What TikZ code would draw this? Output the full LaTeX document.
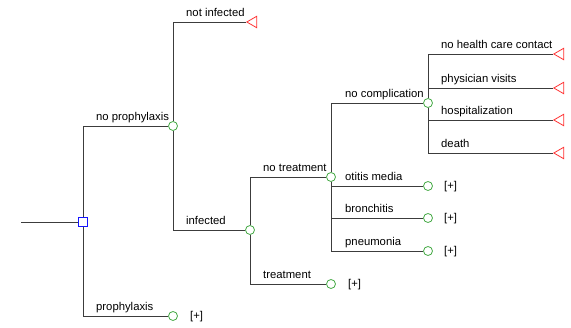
\documentclass[tikz,border=0pt]{standalone}
\usepackage{fontspec}
\setmainfont{Liberation Sans}
\usetikzlibrary{shapes.geometric}
\definecolor{linegray}{RGB}{60,60,60}
\definecolor{chancegreen}{RGB}{70,170,70}
\definecolor{decblue}{RGB}{20,20,255}
\definecolor{termred}{RGB}{255,50,50}
\tikzset{
	decision/.style={draw=decblue,fill=white,minimum size=9pt,inner sep=0pt,line width=0.8pt},
	chance/.style={circle,draw=chancegreen,fill=white,minimum size=9pt,inner sep=0pt,line width=0.8pt},
	terminal/.style={isosceles triangle,shape border rotate=180,isosceles triangle apex angle=60,draw=termred,fill=white,minimum size=10pt,inner sep=0pt,anchor=apex,line width=0.8pt},
	branch/.style={draw=linegray,line width=0.9pt},
	lbl/.style={anchor=base west,inner sep=0pt,font=\fontsize{11.3}{13}\selectfont},
	more/.style={anchor=west,inner sep=0pt,font=\fontsize{11.3}{13}\selectfont}
}
\begin{document}
\begin{tikzpicture}[x=1pt,y=-1pt]
		\useasboundingbox (0,0) rectangle (571,328);
		% nodes
		\coordinate (root) at (21,222);
		\node[decision] (dec) at (83,222) {};
		\node[chance] (noproph) at (173,126) {};
		\node[chance] (proph) at (173,316) {};
		\node[terminal] (notinf) at (246,22) {};
		\node[chance] (inf) at (250,230) {};
		\node[chance] (notreat) at (331,177) {};
		\node[chance] (treat) at (331,284) {};
		\node[chance] (nocompl) at (428,103) {};
		\node[chance] (otitis) at (428,186) {};
		\node[chance] (bronch) at (428,218) {};
		\node[chance] (pneum) at (428,251) {};
		\node[terminal] (nocontact) at (553,54) {};
		\node[terminal] (physician) at (553,88) {};
		\node[terminal] (hospital) at (553,120) {};
		\node[terminal] (death) at (553,153) {};
		% branches
		\draw[branch] (root) -- (dec);
		\draw[branch] (dec) |- (noproph);
		\draw[branch] (dec) |- (proph);
		\draw[branch] (noproph) |- (notinf);
		\draw[branch] (noproph) |- (inf);
		\draw[branch] (inf) |- (notreat);
		\draw[branch] (inf) |- (treat);
		\draw[branch] (notreat) |- (nocompl);
		\draw[branch] (notreat) |- (otitis);
		\draw[branch] (notreat) |- (bronch);
		\draw[branch] (notreat) |- (pneum);
		\draw[branch] (nocompl) |- (nocontact);
		\draw[branch] (nocompl) |- (physician);
		\draw[branch] (nocompl) |- (hospital);
		\draw[branch] (nocompl) |- (death);
		% labels
		\node[lbl] (l-noproph) at (96,121) {no prophylaxis};
		\node[lbl] (l-proph) at (96,311) {prophylaxis};
		\node[lbl] (l-notinf) at (186,17) {not infected};
		\node[lbl] (l-inf) at (186,225) {infected};
		\node[lbl] (l-notreat) at (263,172) {no treatment};
		\node[lbl] (l-treat) at (263,279) {treatment};
		\node[lbl] (l-nocompl) at (345,98) {no complication};
		\node[lbl] (l-otitis) at (345,181) {otitis media};
		\node[lbl] (l-bronch) at (345,213) {bronchitis};
		\node[lbl] (l-pneum) at (345,246) {pneumonia};
		\node[lbl] (l-nocontact) at (441,49) {no health care contact};
		\node[lbl] (l-physician) at (441,83) {physician visits};
		\node[lbl] (l-hospital) at (441,115) {hospitalization};
		\node[lbl] (l-death) at (441,148) {death};
		% collapsed subtrees
		\node[more] (m-proph) at (190,317) {[+]};
		\node[more] (m-treat) at (348,285) {[+]};
		\node[more] (m-otitis) at (444,187) {[+]};
		\node[more] (m-bronch) at (444,219) {[+]};
		\node[more] (m-pneum) at (444,252) {[+]};
		\end{tikzpicture}
\end{document}
